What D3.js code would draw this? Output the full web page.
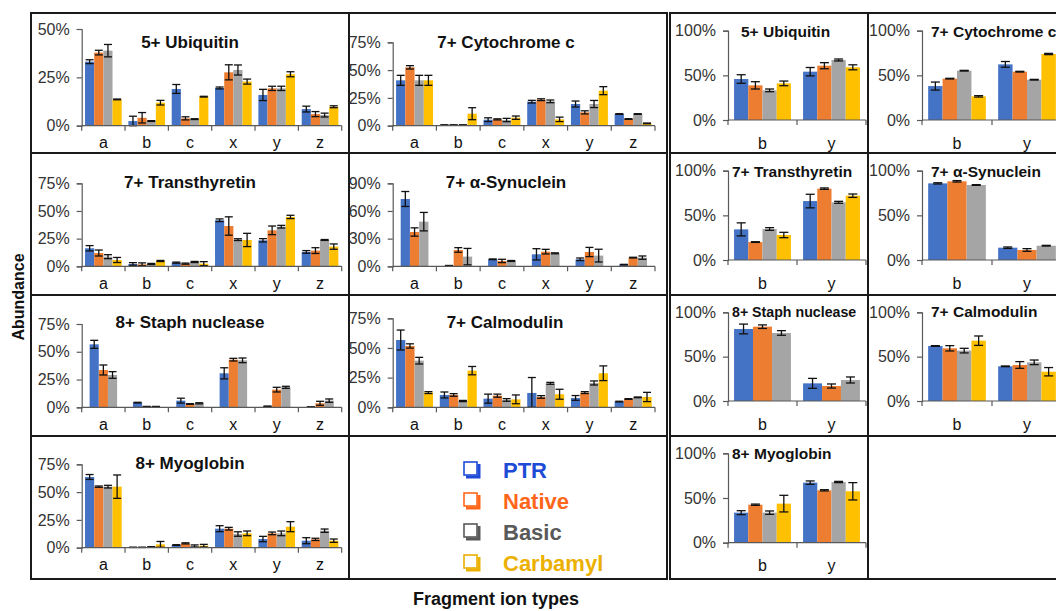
<!DOCTYPE html>
<html><head><meta charset="utf-8">
<script src="https://cdn.jsdelivr.net/npm/d3@7"></script>
<style>
html,body{margin:0;padding:0;background:#fff;overflow:hidden}
text{font-family:"Liberation Sans",Arial,sans-serif}
</style></head>
<body>
<script>
// ---------- DATA ----------
const seriesNames = ["PTR","Native","Basic","Carbamyl"];
const seriesColors = ["#4472C4","#ED7D31","#A5A5A5","#FFC000"];
const legendColors = ["#1E4BD6","#FF661A","#595959","#EBB000"];
const fragAll = ["a","b","c","x","y","z"];
const fragBY = ["b","y"];
const ticks50 = [0,25,50];
const ticks75 = [0,25,50,75];
const ticks90 = [0,30,60,90];
const ticks100 = [0,50,100];

// rows = fragment type, columns = series (PTR, Native, Basic, Carbamyl)
const ubqAll = [[33.1,37.8,38.8,13.6],[2.4,4.1,2.4,11.9],[19.0,3.8,3.4,15.0],[19.5,27.6,28.8,22.8],[15.9,19.3,19.3,26.6],[8.6,6.0,5.5,9.8]];
const ubqAllErr = [[1,1.2,3.2,0.2],[2.5,2.7,0.2,1.2],[2.3,0.8,0.2,0.2],[0.5,3.9,2.6,1.3],[2.9,1.1,1.1,1.3],[1.5,1.3,1,0.5]];
const cytAll = [[40.8,52.5,40.8,40.8],[0.6,0.6,0.6,10.8],[5.4,5.7,5.1,7.2],[21.6,23.4,21.9,5.7],[19.5,12,19.5,31.5],[10.5,6,10.5,2.1]];
const cytAllErr = [[4.5,1.5,4.5,4.5],[0.2,0.2,0.2,5.4],[1.7,0.5,1.5,1.5],[1.2,0.8,1.2,2],[2.7,1.4,3.2,3.6],[0.3,0.3,0.3,0.3]];
const ttrAll = [[16.3,12,8.7,5.7],[2.1,1.8,2.1,4.8],[3.3,2.4,3.9,2.4],[41.6,36.4,24.1,23.8],[23.5,32.5,35.8,44.6],[13,14.2,23.8,17.8]];
const ttrAllErr = [[2.4,2.7,1.8,2.3],[1.2,1.3,0.5,0.5],[0.5,0.5,0.5,1.8],[1.2,8.3,0.8,6],[1.5,3.9,1.2,1.5],[1.2,2.6,0.4,2.4]];
const synAll = [[73,37.2,48.4],[0.7,17.7,10.5],[7.6,5.8,5.8],[13,15.9,14.1],[7.6,15.5,11.6],[1.8,9.4,9.4]];
const synAllErr = [[8.1,4.5,10],[0.2,2.5,8.9],[0.4,1.8,0.5],[6.1,2.5,0.5],[1.4,5,6.9],[0.3,0.4,1.8]];
const snaAll = [[56.7,33.6,29.1],[4.2,0.6,0.6],[6,3,3.6],[30.6,42.9,42.3],[0.9,15.9,18],[0.3,3.6,6]];
const snaAllErr = [[3.6,4.5,3],[0.3,0.2,0.2],[2.2,0.3,0.5],[5,1.2,2.1],[0.2,2.1,0.9],[0.1,1.8,1.5]];
const calAll = [[56.7,51.7,39.3,12.4],[10.4,10.4,5.3,30.9],[7.3,9.8,6.2,6.7],[12.1,8.7,20.2,11],[7.9,12.4,20.5,28.7],[4.8,7,8.4,8.7]];
const calAllErr = [[8.4,1.8,2.8,0.8],[2.5,1.1,0.5,3.5],[3.8,1.3,1.1,3.7],[13,1.1,0.8,4.2],[2,0.8,1.7,6.2],[0.3,0.3,0.3,3.9]];
const myoAll = [[63.6,54.9,54.9,54.9],[0.3,0.3,0.6,3],[2.4,3.9,1.5,1.8],[17.1,17.1,12.3,12.9],[7.8,12.9,12.9,18.9],[6.3,7.5,15.3,6.3]];
const myoAllErr = [[2.2,0.6,1.2,10.5],[0.1,0.1,0.3,2.6],[0.3,0.5,1,1.2],[2.7,1.2,2,2.1],[2.4,1.2,2.1,4.5],[2.7,1,1.5,1.5]];

const ubqBY = [[45.9,38.8,33.2,41],[54.1,60.8,67.2,59]];
const ubqBYErr = [[4.8,4.1,1.5,2.6],[4.7,3.4,1.1,2.8]];
const cytBY = [[38,46.3,55.2,26.5],[62.3,54.1,45.1,73.9]];
const cytBYErr = [[4.5,0.4,0.4,0.8],[3.2,0.4,0.4,0.7]];
const ttrBY = [[34.3,20.1,34.7,28],[66,79.9,64.6,72]];
const ttrBYErr = [[7.3,0.4,1.5,3],[7.6,0.8,1.1,1.9]];
const synBY = [[85.8,88.1,84],[13.8,11.2,16]];
const synBYErr = [[0.7,0.8,0.4],[0.8,1.5,0.4]];
const snaBY = [[81.2,83.8,76.7],[19.9,16.9,23.7]];
const snaBYErr = [[5.5,2,2.6],[5.6,2.3,3.4]];
const calBY = [[62,59.4,56.8,68],[39.1,40.6,43.6,33]];
const calBYErr = [[0.4,3,2.6,5.3],[0.4,3.8,2.6,4.7]];
const myoBY = [[33.6,42.5,33.6,43.7],[67.2,58.6,67.9,57.5]];
const myoBYErr = [[2.2,0.7,1.9,9.3],[1.9,0.7,0.7,9.7]];

// ---------- LAYOUT ----------
const L = {xa:81.7, xb:341.7}, M = {xa:392.7, xb:655}, R1 = {xa:728, xb:866}, R2 = {xa:922, xb:1062};
const panels = [
  {title:"5+ Ubiquitin", cats:fragAll, vals:ubqAll, errs:ubqAllErr, ticks:ticks50, col:L, y0:125.7, yTop:29, tx:190, ty:42, big:true, slots:4, fs:17},
  {title:"7+ Cytochrome c", cats:fragAll, vals:cytAll, errs:cytAllErr, ticks:ticks75, col:M, y0:125.7, yTop:42.3, tx:506, ty:42, big:true, slots:4, fs:17},
  {title:"7+ Transthyretin", cats:fragAll, vals:ttrAll, errs:ttrAllErr, ticks:ticks75, col:L, y0:266.3, yTop:183.3, tx:190, ty:182, big:true, slots:4, fs:17},
  {title:"7+ \u03b1-Synuclein", cats:fragAll, vals:synAll, errs:synAllErr, ticks:ticks90, col:M, y0:266.3, yTop:183.3, tx:506, ty:182, big:true, slots:4, fs:17},
  {title:"8+ Staph nuclease", cats:fragAll, vals:snaAll, errs:snaAllErr, ticks:ticks75, col:L, y0:407.3, yTop:324, tx:190, ty:322, big:true, slots:4, fs:17},
  {title:"7+ Calmodulin", cats:fragAll, vals:calAll, errs:calAllErr, ticks:ticks75, col:M, y0:407.3, yTop:318.3, tx:505, ty:322, big:true, slots:4, fs:17},
  {title:"8+ Myoglobin", cats:fragAll, vals:myoAll, errs:myoAllErr, ticks:ticks75, col:L, y0:547.7, yTop:464.3, tx:190, ty:463, big:true, slots:4, fs:17},

  {title:"5+ Ubiquitin", cats:fragBY, vals:ubqBY, errs:ubqBYErr, ticks:ticks100, col:R1, y0:120, yTop:30.7, tx:741, ty:32, big:false, slots:0, fs:15.5},
  {title:"7+ Cytochrome c", cats:fragBY, vals:cytBY, errs:cytBYErr, ticks:ticks100, col:R2, y0:120, yTop:30.7, tx:931, ty:32, big:false, slots:0, fs:15.5},
  {title:"7+ Transthyretin", cats:fragBY, vals:ttrBY, errs:ttrBYErr, ticks:ticks100, col:R1, y0:260, yTop:170.7, tx:732, ty:172, big:false, slots:0, fs:15.5},
  {title:"7+ \u03b1-Synuclein", cats:fragBY, vals:synBY, errs:synBYErr, ticks:ticks100, col:R2, y0:260, yTop:170.7, tx:931, ty:172, big:false, slots:0, fs:15.5},
  {title:"8+ Staph nuclease", cats:fragBY, vals:snaBY, errs:snaBYErr, ticks:ticks100, col:R1, y0:401, yTop:312.3, tx:732, ty:312, big:false, slots:0, fs:14.2},
  {title:"7+ Calmodulin", cats:fragBY, vals:calBY, errs:calBYErr, ticks:ticks100, col:R2, y0:401, yTop:312.3, tx:931, ty:312, big:false, slots:0, fs:15.5},
  {title:"8+ Myoglobin", cats:fragBY, vals:myoBY, errs:myoBYErr, ticks:ticks100, col:R1, y0:542.7, yTop:453.3, tx:732, ty:454, big:false, slots:0, fs:15.5}
];

const svg = d3.select("body").append("svg").attr("width",1056).attr("height",611);

// frames
const frame = svg.append("g").attr("fill","none").attr("stroke","#1a1a1a").attr("stroke-width",2);
frame.append("rect").attr("x",31).attr("y",13).attr("width",636).attr("height",566);
frame.append("line").attr("x1",349).attr("x2",349).attr("y1",13).attr("y2",579);
[153,295,436].forEach(yy=>frame.append("line").attr("x1",31).attr("x2",667).attr("y1",yy).attr("y2",yy));
frame.append("rect").attr("x",670).attr("y",13).attr("width",400).attr("height",566);
frame.append("line").attr("x1",868).attr("x2",868).attr("y1",13).attr("y2",579);
[153,295,436].forEach(yy=>frame.append("line").attr("x1",670).attr("x2",1070).attr("y1",yy).attr("y2",yy));

panels.forEach(p=>{
  const g = svg.append("g");
  const maxV = p.ticks[p.ticks.length-1];
  const y = d3.scaleLinear().domain([0,maxV]).range([p.y0,p.yTop]);
  const x0 = d3.scaleBand().domain(p.cats).range([p.col.xa,p.col.xb]);
  const ns = p.vals[0].length;
  const padFrac = p.big ? 0.077 : 0.088;
  const inner = x0.bandwidth()*(1-2*padFrac);
  const slots = p.slots || ns;
  const bw = inner/slots;
  const x1 = d3.scaleBand().domain(d3.range(ns)).range([-ns*bw/2, ns*bw/2]);

  // y axis
  const yAxis = d3.axisLeft(y).tickValues(p.ticks).tickSize(5).tickPadding(7).tickFormat(d=>d+"%");
  const ya = g.append("g").attr("transform",`translate(${p.col.xa},0)`).call(yAxis);
  ya.select(".domain").attr("stroke","#595959").attr("stroke-width",1.2);
  ya.selectAll(".tick line").attr("stroke","#595959").attr("stroke-width",1.2);
  ya.selectAll(".tick text").attr("fill","#333").attr("font-size",16).attr("font-family","Liberation Sans, Arial, sans-serif");

  // bars
  p.cats.forEach((c,ci)=>{
    const cx = x0(c)+x0.bandwidth()/2;
    p.vals[ci].forEach((v,si)=>{
      const bx = cx + x1(si);
      g.append("rect").attr("x",bx).attr("width",x1.bandwidth())
        .attr("y",y(v)).attr("height",y(0)-y(v)).attr("fill",seriesColors[si]);
    });
  });
  // error bars
  p.cats.forEach((c,ci)=>{
    const cx = x0(c)+x0.bandwidth()/2;
    p.vals[ci].forEach((v,si)=>{
      const e = p.errs[ci][si];
      const mx = cx + x1(si) + x1.bandwidth()/2;
      const cap = p.big ? 4 : 4.5;
      const lo = Math.max(0,v-e), hi = v+e;
      const eg = g.append("g").attr("stroke","#111").attr("stroke-width",1.3);
      eg.append("line").attr("x1",mx).attr("x2",mx).attr("y1",y(lo)).attr("y2",y(hi));
      eg.append("line").attr("x1",mx-cap).attr("x2",mx+cap).attr("y1",y(hi)).attr("y2",y(hi));
      eg.append("line").attr("x1",mx-cap).attr("x2",mx+cap).attr("y1",y(lo)).attr("y2",y(lo));
    });
  });

  // x axis
  const xa = g.append("g").attr("transform",`translate(0,${p.y0})`);
  xa.append("line").attr("x1",p.col.xa).attr("x2",p.col.xb).attr("stroke","#595959").attr("stroke-width",1.2);
  const bounds = p.cats.map(c=>x0(c)).concat([p.col.xb]);
  xa.selectAll("line.tk").data(bounds).enter().append("line").attr("class","tk")
    .attr("x1",d=>d).attr("x2",d=>d).attr("y1",0).attr("y2",5).attr("stroke","#595959").attr("stroke-width",1.2);
  xa.selectAll("text").data(p.cats).enter().append("text")
    .attr("x",d=>x0(d)+x0.bandwidth()/2).attr("y",p.big?22.5:28.5)
    .attr("text-anchor","middle").attr("font-size",16).attr("fill","#111").text(d=>d);

  // title
  g.append("text").attr("x",p.tx).attr("y",p.ty).attr("dy","0.35em")
    .attr("text-anchor",p.big?"middle":"start")
    .attr("font-size",p.fs).attr("font-weight","bold").attr("fill","#111")
    .text(p.title);
});

// legend
const lg = svg.append("g");
const legendY = d3.scalePoint().domain(seriesNames).range([478,571]);
seriesNames.forEach((s,i)=>{
  const by = legendY(s);
  const sx = 464, sy = by-16, sz = 15;
  lg.append("rect").attr("x",sx).attr("y",sy).attr("width",sz-2).attr("height",sz-2)
    .attr("fill","none").attr("stroke",legendColors[i]).attr("stroke-width",1.6);
  lg.append("path").attr("d",`M${sx+2},${sy+sz} L${sx+sz},${sy+sz} L${sx+sz},${sy+2}`)
    .attr("fill","none").attr("stroke",legendColors[i]).attr("stroke-width",3);
  lg.append("text").attr("x",503).attr("y",by).attr("font-size",22).attr("font-weight","bold")
    .attr("fill",legendColors[i]).text(s);
});

// axis titles
svg.append("text").attr("transform","translate(24,297) rotate(-90)").attr("text-anchor","middle")
  .attr("font-size",16).attr("font-weight","bold").attr("fill","#111").text("Abundance");
svg.append("text").attr("x",496).attr("y",605).attr("text-anchor","middle")
  .attr("font-size",18).attr("font-weight","bold").attr("fill","#111").text("Fragment ion types");
</script>
</body></html>
